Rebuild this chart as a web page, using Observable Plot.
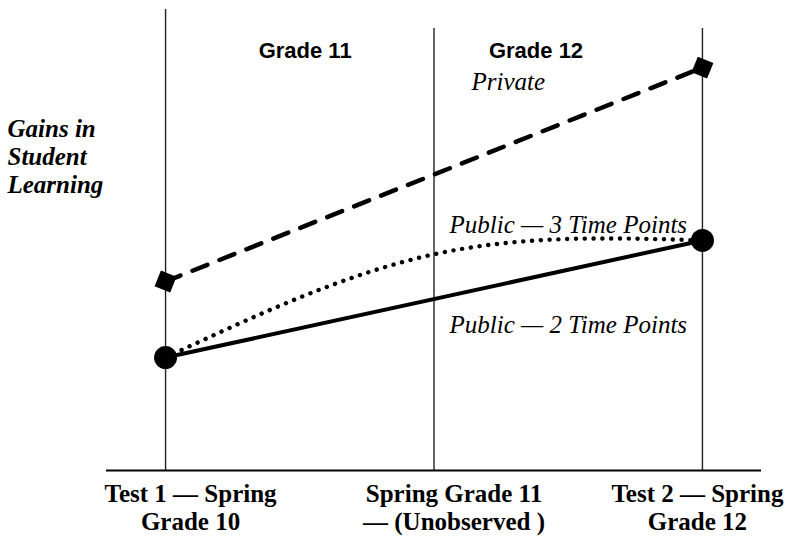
<!DOCTYPE html>
<html>
<head>
<meta charset="utf-8">
<script src="https://cdn.jsdelivr.net/npm/d3@7"></script>
<script src="https://cdn.jsdelivr.net/npm/@observablehq/plot@0.6"></script>
<style>
  html, body { margin: 0; padding: 0; background: #fff; }
  #chart svg { display: block; }
</style>
</head>
<body>
<div id="chart"></div>
<script>
// ---- data ----
const timePoints = [0, 1, 2];
const timeLabels = ["Test 1 — Spring\nGrade 10", "Spring Grade 11\n— (Unobserved )", "Test 2 — Spring\nGrade 12"];
const observedTimes = [0, 2];
const privateGains = [41.0, 87.4];
const public2Gains = [24.5, 49.9];
const public3Gains = [24.5, 46.9, 49.9];
const gradeLabels = ["Grade 11", "Grade 12"];
const seriesLabels = ["Private", "Public — 3 Time Points", "Public — 2 Time Points"];
const yTitle = "Gains in\nStudent\nLearning";

const privateData = observedTimes.map((t, i) => ({t, v: privateGains[i]}));
const public2Data = observedTimes.map((t, i) => ({t, v: public2Gains[i]}));
const public3Data = timePoints.map((t, i) => ({t, v: public3Gains[i]}));

const serif = "'Liberation Serif', 'Times New Roman', serif";
const sans = "'Liberation Sans', Arial, sans-serif";

const chart = Plot.plot({
  width: 790,
  height: 536,
  marginLeft: 106,
  marginRight: 29,
  marginTop: 9,
  marginBottom: 66,
  x: {domain: [-0.22, 2.22], axis: null},
  y: {domain: [0, 100], axis: null},
  style: {background: "#fff", overflow: "visible"},
  marks: [
    // vertical time-point rules
    Plot.ruleX([timePoints[0]], {y1: 0, y2: 100, stroke: "#222", strokeWidth: 1.4}),
    Plot.ruleX(timePoints.slice(1), {y1: 0, y2: 95.9, stroke: "#222", strokeWidth: 1.4}),
    // baseline
    Plot.ruleY([0], {stroke: "#000", strokeWidth: 2.2}),
    // series
    Plot.line(privateData, {x: "t", y: "v", stroke: "#000", strokeWidth: 4.5, strokeDasharray: "16,13"}),
    Plot.line(public3Data, {x: "t", y: "v", stroke: "#000", strokeWidth: 4.4, strokeDasharray: "0.1,8.7", strokeLinecap: "round", curve: "natural"}),
    Plot.line(public2Data, {x: "t", y: "v", stroke: "#000", strokeWidth: 4}),
    Plot.dot(privateData, {x: "t", y: "v", symbol: "square", r: 9.5, fill: "#000", rotate: 22}),
    Plot.dot(public2Data, {x: "t", y: "v", r: 11.5, fill: "#000"}),
    // grade labels
    Plot.text([gradeLabels[0]], {x: 0.52, frameAnchor: "top", lineAnchor: "bottom", dy: 48, fontFamily: sans, fontWeight: "bold", fontSize: 22, fill: "#000"}),
    Plot.text([gradeLabels[1]], {x: 1.38, frameAnchor: "top", lineAnchor: "bottom", dy: 48, fontFamily: sans, fontWeight: "bold", fontSize: 22, fill: "#000"}),
    // series labels
    Plot.text([seriesLabels[0]], {x: 1.14, y: 82.5, textAnchor: "start", lineAnchor: "bottom", fontFamily: serif, fontStyle: "italic", fontSize: 25, fill: "#000"}),
    Plot.text([seriesLabels[1]], {x: 1.058, y: 51.6, textAnchor: "start", lineAnchor: "bottom", fontFamily: serif, fontStyle: "italic", fontSize: 25, fill: "#000"}),
    Plot.text([seriesLabels[2]], {x: 1.058, y: 29.9, textAnchor: "start", lineAnchor: "bottom", fontFamily: serif, fontStyle: "italic", fontSize: 25, fill: "#000"}),
    // y title
    Plot.text([yTitle], {frameAnchor: "top-left", textAnchor: "start", lineAnchor: "top", dx: -99, dy: 108, lineHeight: 1.12, fontFamily: serif, fontStyle: "italic", fontWeight: "bold", fontSize: 25, fill: "#000"}),
    // time-point labels
    Plot.text(timePoints.slice(0, 1), {x: d => d, text: d => timeLabels[d], frameAnchor: "bottom", lineAnchor: "top", dy: 12, dx: 25, lineHeight: 1.12, fontFamily: serif, fontWeight: "bold", fontSize: 25, fill: "#000"}),
    Plot.text(timePoints.slice(1, 2), {x: d => d, text: d => timeLabels[d], frameAnchor: "bottom", lineAnchor: "top", dy: 12, dx: 20, lineHeight: 1.12, fontFamily: serif, fontWeight: "bold", fontSize: 25, fill: "#000"}),
    Plot.text(timePoints.slice(2), {x: d => d, text: d => timeLabels[d], frameAnchor: "bottom", lineAnchor: "top", dy: 12, dx: -5, lineHeight: 1.12, fontFamily: serif, fontWeight: "bold", fontSize: 25, fill: "#000"})
  ]
});
document.getElementById("chart").appendChild(chart);
</script>
</body>
</html>
